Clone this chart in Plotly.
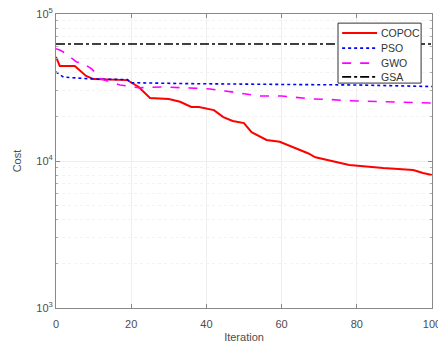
import plotly.graph_objects as go

# ---- data ----
copoc_iter = [0, 1, 5, 8, 10, 19, 22, 25, 30, 33, 36, 38, 42, 44.5, 47, 50, 52, 56, 59.5, 63, 67, 69, 72, 78, 87, 95, 97.6, 100]
copoc_cost = [51000, 44300, 44300, 37900, 36100, 35500, 31900, 26800, 26400, 25300, 23300, 23300, 22200, 19900, 18700, 18100, 15700, 13900, 13500, 12400, 11300, 10600, 10200, 9400, 8960, 8690, 8280, 8040]

pso_iter = [0, 2, 7, 10, 19, 20, 35, 50, 65, 80, 90, 100]
pso_cost = [40300, 37200, 36500, 36100, 35800, 34100, 33600, 33200, 33100, 32900, 32600, 32100]

gwo_iter = [0, 1, 2.4, 5.5, 7, 9.5, 12, 17, 22, 28, 35.6, 41, 45, 50, 54, 60, 64, 68, 72, 78, 87, 97.6, 100]
gwo_cost = [58000, 56900, 54300, 47100, 46500, 42300, 36100, 32900, 31500, 31900, 31400, 30900, 29950, 28550, 27700, 27700, 27200, 26400, 26300, 25700, 25300, 24800, 24800]

gsa_iter = [0, 100]
gsa_cost = [62500, 62500]

series_names = ["COPOC", "PSO", "GWO", "GSA"]
series_colors = ["#ff0000", "#0000ff", "#ff00ff", "#000000"]
series_dash = ["solid", "dot", "dash", "dashdot"]
series_width = [2, 1.6, 1.6, 1.6]

x_ticks = [0, 20, 40, 60, 80, 100]
y_ticks = [1000, 10000, 100000]
y_tick_labels = ["10<sup>3</sup>", "10<sup>4</sup>", "10<sup>5</sup>"]
y_minor = [m * d for d in (1000, 10000) for m in range(2, 10)]

xs = [copoc_iter, pso_iter, gwo_iter, gsa_iter]
ys = [copoc_cost, pso_cost, gwo_cost, gsa_cost]

fig = go.Figure()
for name, x, y, c, d, w in zip(series_names, xs, ys, series_colors, series_dash, series_width):
    fig.add_trace(go.Scatter(x=x, y=y, mode="lines", name=name, showlegend=False,
                             line=dict(color=c, width=w, dash=d)))

FONT = "Liberation Sans, Arial, sans-serif"
axis_font = dict(family=FONT, size=11, color="#4d4d4d")

# ---- hand-drawn legend box (MATLAB style, compact rows) ----
box_x0, box_x1, box_y0, box_y1 = 0.75, 0.971, 0.765, 0.969
row_y = [0.935, 0.884, 0.833, 0.786]
sample_x0, sample_x1, text_x = 0.761, 0.854, 0.859

shapes = [dict(type="rect", xref="paper", yref="paper", x0=box_x0, x1=box_x1,
               y0=box_y0, y1=box_y1, line=dict(color="#333333", width=1),
               fillcolor="white", layer="above")]
annotations = []
for name, c, d, w, ry in zip(series_names, series_colors, series_dash, series_width, row_y):
    shapes.append(dict(type="line", xref="paper", yref="paper", x0=sample_x0, x1=sample_x1,
                       y0=ry, y1=ry, line=dict(color=c, width=w, dash=d), layer="above"))
    annotations.append(dict(xref="paper", yref="paper", x=text_x, y=ry, text=name,
                            showarrow=False, xanchor="left", yanchor="middle",
                            font=dict(family=FONT, size=10.5, color="#333333")))

fig.update_layout(
    width=438, height=347,
    margin=dict(l=56, r=6, t=14, b=39),
    paper_bgcolor="white", plot_bgcolor="white",
    font=axis_font,
    showlegend=False,
    shapes=shapes,
    annotations=annotations,
    xaxis=dict(range=[0, 100], tickvals=x_ticks, ticks="inside", ticklen=4,
               tickcolor="#888888", showline=True, linecolor="#888888", linewidth=1,
               mirror="allticks", showgrid=True, gridcolor="#eeeeee", zeroline=False,
               ticklabeloverflow="allow", ticklabelstandoff=6, automargin=False,
               title=dict(text="Iteration", standoff=4, font=axis_font),
               tickfont=axis_font),
    yaxis=dict(type="log", range=[3, 5], tickvals=y_ticks, ticktext=y_tick_labels,
               ticks="inside", ticklen=4, tickcolor="#888888", showline=True,
               linecolor="#888888", linewidth=1, mirror="allticks",
               showgrid=True, gridcolor="#eeeeee", zeroline=False, automargin=False,
               minor=dict(tickvals=y_minor, ticks="inside", ticklen=2, tickcolor="#aaaaaa",
                          showgrid=True, gridcolor="#f3f3f3", griddash="dot"),
               title=dict(text="Cost", standoff=12, font=axis_font),
               tickfont=axis_font),
)

fig.write_html("out.html")
